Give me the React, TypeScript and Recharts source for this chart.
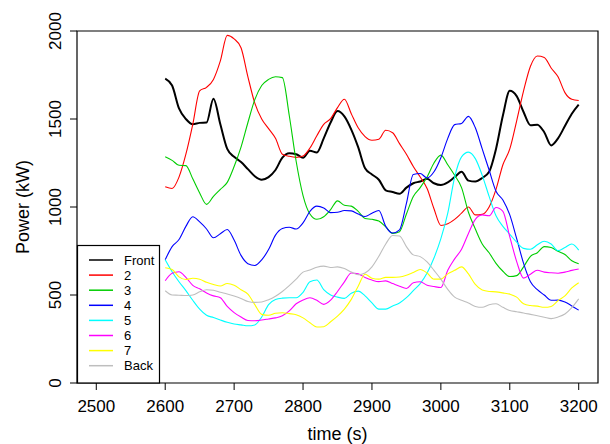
import React from 'react';
import { LineChart, Line, XAxis, YAxis, ReferenceArea } from 'recharts';

const times = [
  2600, 2610, 2620, 2630, 2640, 2650, 2660, 2670, 2680, 2690,
  2700, 2710, 2720, 2730, 2740, 2750, 2760, 2770, 2780, 2790,
  2800, 2810, 2820, 2830, 2840, 2850, 2860, 2870, 2880, 2890,
  2900, 2910, 2920, 2930, 2940, 2950, 2960, 2970, 2980, 2990,
  3000, 3010, 3020, 3030, 3040, 3050, 3060, 3070, 3080, 3090,
  3100, 3110, 3120, 3130, 3140, 3150, 3160, 3170, 3180, 3190,
  3200,
];

const front = [
  1730, 1690, 1560, 1500, 1470, 1478, 1480, 1615, 1470, 1330,
  1285, 1255, 1215, 1175, 1155, 1170, 1210, 1280, 1305, 1300,
  1280, 1320, 1310, 1390, 1480, 1545, 1515, 1440, 1340, 1220,
  1185, 1155, 1095, 1085, 1075, 1110, 1135, 1145, 1160, 1135,
  1125, 1140, 1170, 1200, 1150, 1145, 1165, 1200, 1330, 1520,
  1660, 1630, 1540, 1465, 1468, 1425, 1350, 1390, 1460, 1530,
  1582,
];
const s2 = [
  1115, 1105, 1170, 1300, 1470, 1660, 1680, 1725, 1830, 1975,
  1955, 1905, 1740, 1590, 1500, 1445, 1390, 1300, 1288, 1282,
  1290, 1335, 1405, 1470, 1502, 1565, 1612, 1530, 1450, 1400,
  1379, 1385, 1436, 1422, 1360, 1300, 1230, 1170, 1105, 990,
  895, 905, 930, 965, 1000, 955, 958, 1000, 1100, 1240,
  1330, 1490, 1660, 1800, 1858, 1850, 1790, 1740, 1650, 1612,
  1605,
];
const s3 = [
  1285, 1265, 1237, 1235, 1160, 1080, 1015, 1060, 1100, 1140,
  1230, 1340, 1480, 1610, 1690, 1725, 1740, 1735, 1520, 1260,
  1065, 960, 930, 945, 985, 1035, 1010, 1005, 975, 935,
  930, 920, 887, 850, 860, 960, 1060, 1110, 1170, 1250,
  1295, 1240, 1180, 1110, 970, 875, 790, 740, 680, 635,
  605, 610, 660, 720, 740, 775, 770, 748, 730, 695,
  678,
];
const s4 = [
  700, 775, 815, 890, 945, 915, 875, 825, 848, 872,
  812, 725, 678, 668, 700, 758, 840, 878, 885, 875,
  910, 975, 1005, 995, 968, 970, 980, 978, 960, 946,
  965, 980, 890, 852, 870, 1020, 1185, 1190, 1165, 1200,
  1280, 1390, 1468, 1475, 1515, 1450, 1330, 1210, 1090, 1040,
  955, 820, 680, 575, 530, 500, 470, 471, 460, 438,
  414,
];
const s5 = [
  700, 632, 575, 525, 470, 420, 385, 372, 358, 345,
  335, 330, 325, 330, 375, 445, 475, 482, 484, 484,
  515, 575, 585, 530, 500, 488, 481, 510, 522, 495,
  455, 420, 420, 438, 455, 485, 525, 565, 625, 710,
  820, 965, 1170, 1285, 1312, 1275, 1180, 1060, 950, 890,
  845, 800, 765, 760, 785, 805, 790, 752, 770, 790,
  755,
];
const s6 = [
  581, 623, 632, 600, 555, 535, 512, 495, 485, 435,
  400, 375, 355, 354, 358, 364, 370, 382, 410, 450,
  472, 484, 470, 447, 471, 520, 575, 625, 620, 600,
  585, 576, 580, 565, 550, 537, 570, 575, 555, 548,
  543, 640, 705, 760, 850, 930, 955, 950, 997, 975,
  830, 690, 596, 618, 641, 630, 626, 624, 630, 640,
  648,
];
const s7 = [
  655, 645, 603, 588, 595, 590, 572, 560, 551, 565,
  555, 530, 505, 445, 390, 385, 396, 399, 394, 388,
  370, 342, 318, 320, 348, 380, 420, 475, 550, 618,
  595, 590, 600, 600, 602, 612, 628, 645, 625, 590,
  590, 620, 640, 660, 620, 560, 528, 520, 518, 512,
  505, 488, 450, 440, 437, 430, 435, 468, 495, 540,
  570,
];
const back = [
  524, 500, 499, 497, 500, 518, 530, 527, 516, 506,
  494, 480, 463, 458, 460, 473, 493, 520, 553, 590,
  630, 642, 658, 664, 656, 660, 650, 630, 615, 625,
  660, 720, 790, 838, 835, 775, 728, 718, 688, 640,
  590, 532, 488, 470, 455, 435, 430, 445, 450, 430,
  412, 405, 398, 390, 382, 374, 366, 375, 392, 428,
  478,
];

const seriesNames = ['Front', '2', '3', '4', '5', '6', '7', 'Back'];
const seriesKeys = ['front', 's2', 's3', 's4', 's5', 's6', 's7', 'back'];
const seriesColors = ['#000000', '#FF0000', '#00CD00', '#0000FF', '#00FFFF', '#FF00FF', '#FFFF00', '#BEBEBE'];
const seriesWidths = [2, 1.1, 1.1, 1.1, 1.1, 1.1, 1.1, 1.1];
const seriesValues = [front, s2, s3, s4, s5, s6, s7, back];

const xTicks = [2500, 2600, 2700, 2800, 2900, 3000, 3100, 3200];
const yTicks = [0, 500, 1000, 1500, 2000];
const xDomain = [2472, 3228];
const yDomain = [0, 2000];

const data = times.map((t, i) => {
  const row: Record<string, number> = { t };
  seriesKeys.forEach((k, j) => {
    row[k] = seriesValues[j][i];
  });
  return row;
});

const FONT = '"Liberation Sans", Arial, Helvetica, sans-serif';

const XTick = (props: any) => {
  const { x, y, payload } = props;
  return (
    <text x={x} y={y + 22} textAnchor="middle" fontSize={17} fontFamily={FONT} fill="#000">
      {payload.value}
    </text>
  );
};

const YTick = (props: any) => {
  const { x, y, payload } = props;
  const bx = x - 9;
  return (
    <text x={bx} y={y} transform={`rotate(-90, ${bx}, ${y})`} textAnchor="middle" fontSize={17} fontFamily={FONT} fill="#000">
      {payload.value}
    </text>
  );
};

export default function App() {
  const W = 602;
  const H = 436;
  const legendTop = 252;
  const legendStep = 15.1;
  return (
    <div style={{ position: 'relative', width: W, height: H }}>
      <LineChart width={W} height={H} data={data} margin={{ top: 23, right: 12, left: 0, bottom: 0 }}>
        <XAxis
          dataKey="t"
          type="number"
          domain={xDomain}
          ticks={xTicks}
          interval={0}
          allowDataOverflow
          height={61}
          tickSize={7}
          tickMargin={0}
          axisLine={false}
          tickLine={{ stroke: '#000', strokeWidth: 1 }}
          tick={<XTick />}
        />
        <YAxis
          type="number"
          domain={yDomain}
          ticks={yTicks}
          interval={0}
          allowDataOverflow
          width={69}
          tickSize={7}
          tickMargin={0}
          axisLine={false}
          tickLine={{ stroke: '#000', strokeWidth: 1 }}
          tick={<YTick />}
        />
        {seriesKeys.map((k, j) => (
          <Line
            key={k}
            dataKey={k}
            type="monotone"
            stroke={seriesColors[j]}
            strokeWidth={seriesWidths[j]}
            dot={false}
            activeDot={false}
            isAnimationActive={false}
          />
        ))}
        <ReferenceArea
          x1={xDomain[0]}
          x2={xDomain[1]}
          y1={yDomain[0]}
          y2={yDomain[1]}
          fill="none"
          fillOpacity={0}
          stroke="#000"
          strokeWidth={1.2}
          ifOverflow="visible"
        />
      </LineChart>
      <svg
        width={W}
        height={H}
        style={{ position: 'absolute', left: 0, top: 0, pointerEvents: 'none' }}
      >
        <text x={329.5} y={432} textAnchor="middle" fontSize={18} fontFamily={FONT} fill="#000">
          time (s)
        </text>
        <text x={21} y={199} transform="rotate(-90, 21, 199)" textAnchor="middle" fontSize={18} fontFamily={FONT} fill="#000">
          Power (kW)
        </text>
        <rect x={69.5} y={237.5} width={82} height={137.5} fill="#fff" stroke="#000" strokeWidth={1.2} />
        {seriesNames.map((name, j) => {
          const ly = legendTop + j * legendStep;
          return (
            <g key={name}>
              <line x1={81} x2={105} y1={ly} y2={ly} stroke={seriesColors[j]} strokeWidth={1.5} />
              <text x={116} y={ly + 4.7} fontSize={13} fontFamily={FONT} fill="#000">
                {name}
              </text>
            </g>
          );
        })}
      </svg>
    </div>
  );
}
